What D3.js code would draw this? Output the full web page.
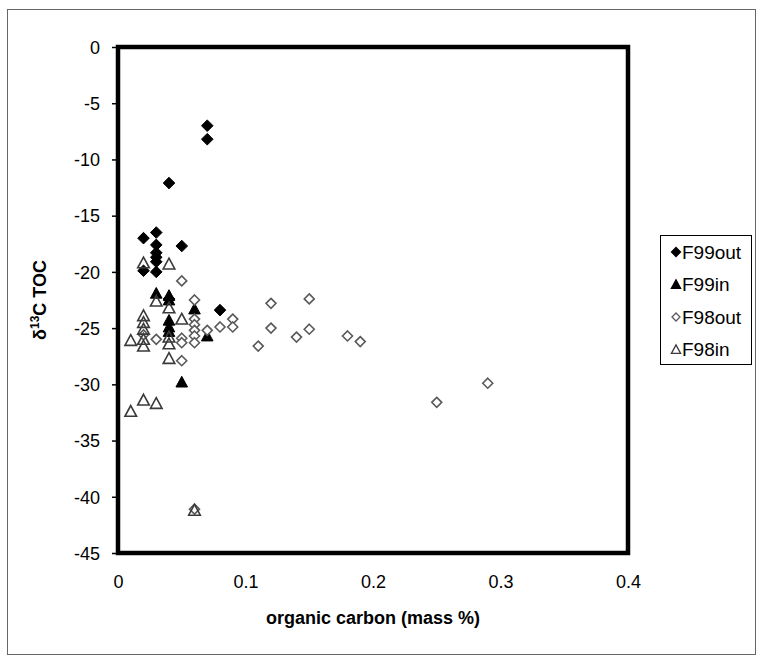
<!DOCTYPE html>
<html>
<head>
<meta charset="utf-8">
<script src="https://cdn.jsdelivr.net/npm/d3@7"></script>
<style>
  body { margin: 0; background: #fff; }
  text { font-family: Arial, "Liberation Sans", sans-serif; }
</style>
</head>
<body>
<div class="chart"></div>
<script>
// series: [organic carbon (mass %), d13C TOC]
const f99out = [
  [0.07, -7.0], [0.07, -8.2], [0.04, -12.1], [0.02, -17.0], [0.03, -16.5],
  [0.03, -17.6], [0.05, -17.7], [0.03, -18.3], [0.03, -18.7], [0.03, -19.1],
  [0.02, -19.9], [0.03, -20.0], [0.04, -22.4], [0.08, -23.4]
];
const f99in = [
  [0.03, -21.9], [0.04, -22.1], [0.04, -22.5], [0.06, -23.3], [0.04, -24.3],
  [0.04, -24.9], [0.04, -25.3], [0.07, -25.7], [0.05, -29.8]
];
const f98out = [
  [0.03, -26.0], [0.05, -20.8], [0.06, -22.5], [0.06, -24.2], [0.06, -24.7],
  [0.06, -25.2], [0.06, -25.7], [0.06, -26.3], [0.07, -25.2], [0.08, -24.9],
  [0.09, -24.2], [0.09, -24.9], [0.12, -22.8], [0.12, -25.0], [0.11, -26.6],
  [0.15, -22.4], [0.15, -25.1], [0.14, -25.8], [0.18, -25.7], [0.19, -26.2],
  [0.25, -31.6], [0.29, -29.9], [0.05, -27.9], [0.05, -25.9], [0.02, -25.6],
  [0.05, -26.3], [0.06, -41.1]
];
const f98in = [
  [0.02, -19.2], [0.04, -19.3], [0.03, -22.6], [0.04, -23.2], [0.05, -24.2],
  [0.02, -23.9], [0.02, -24.5], [0.02, -25.1], [0.01, -26.1], [0.02, -26.0],
  [0.04, -25.8], [0.02, -26.6], [0.04, -26.4], [0.04, -27.7], [0.02, -31.4],
  [0.03, -31.7], [0.01, -32.4], [0.06, -41.2]
];
const seriesNames = ['F99out', 'F99in', 'F98out', 'F98in'];
const xTicks = [0, 0.1, 0.2, 0.3, 0.4];
const yTicks = [0, -5, -10, -15, -20, -25, -30, -35, -40, -45];

const width = 757, height = 656;
const margin = { top: 47, right: 129, bottom: 103, left: 118 };
const w = width - margin.left - margin.right;
const h = height - margin.top - margin.bottom;

const svg = d3.select('.chart')
  .append('svg')
    .attr('width', width)
    .attr('height', height);

// chart area frame
svg.append('rect')
  .attr('x', 7.5).attr('y', 9.5)
  .attr('width', 748).attr('height', 645)
  .attr('fill', '#fff')
  .attr('stroke', '#666');

const g = svg.append('g')
  .attr('transform', `translate(${margin.left}, ${margin.top})`);

const x = d3.scaleLinear().domain([0, 0.4]).range([0, w]);
const y = d3.scaleLinear().domain([-45, 0]).range([h, 0]);

const yAxis = d3.axisLeft(y).tickValues(yTicks).tickSize(6).tickPadding(12)
  .tickFormat(d => String(d));
const xAxis = d3.axisBottom(x).tickValues(xTicks).tickSize(0).tickPadding(22)
  .tickFormat(d => String(d));

g.append('g').call(yAxis)
  .call(a => a.select('.domain').remove())
  .call(a => a.selectAll('line').attr('stroke', '#000').attr('stroke-width', 1.5))
  .call(a => a.selectAll('text').attr('font-size', 18).attr('fill', '#000').attr('dy', '0.35em'));

g.append('g').attr('transform', `translate(0, ${h})`).call(xAxis)
  .call(a => a.select('.domain').remove())
  .call(a => a.selectAll('text').attr('font-size', 18).attr('fill', '#000'));

// plot area border
g.append('rect')
  .attr('width', w).attr('height', h)
  .attr('fill', 'none')
  .attr('stroke', '#000')
  .attr('stroke-width', 4.5);

function diamondPath(s) {
  return `M0,${-s}L${s},0L0,${s}L${-s},0Z`;
}
function trianglePath(s) {
  return `M0,${-s}L${s},${s * 0.85}L${-s},${s * 0.85}Z`;
}

const styles = [
  { data: f99out, path: diamondPath(5.8), fill: '#000', stroke: '#000', sw: 1 },
  { data: f99in, path: trianglePath(5.8), fill: '#000', stroke: '#000', sw: 1 },
  { data: f98out, path: diamondPath(5), fill: '#fff', stroke: '#5a5a5a', sw: 1.6 },
  { data: f98in, path: trianglePath(5.8), fill: 'none', stroke: '#3a3a3a', sw: 1.6 }
];

styles.forEach(s => {
  g.append('g').selectAll('path')
    .data(s.data)
    .enter()
    .append('path')
      .attr('d', s.path)
      .attr('transform', d => `translate(${x(d[0])}, ${y(d[1])})`)
      .attr('fill', s.fill)
      .attr('stroke', s.stroke)
      .attr('stroke-width', s.sw);
});

// axis titles
svg.append('text')
  .attr('x', margin.left + w / 2).attr('y', 624)
  .attr('text-anchor', 'middle')
  .attr('font-size', 18).attr('font-weight', 'bold')
  .text('organic carbon (mass %)');

const yt = svg.append('text')
  .attr('transform', `translate(46, ${margin.top + h / 2}) rotate(-90)`)
  .attr('text-anchor', 'middle')
  .attr('font-size', 18).attr('font-weight', 'bold');
yt.append('tspan').text('δ');
yt.append('tspan').attr('font-size', 12).attr('dy', -7).text('13');
yt.append('tspan').attr('dy', 7).text('C TOC');

// legend
const lg = svg.append('g').attr('transform', 'translate(660, 235)');
lg.append('rect')
  .attr('x', 0.5).attr('y', 0.5)
  .attr('width', 91).attr('height', 129)
  .attr('fill', '#fff').attr('stroke', '#000');
const legendMarks = [
  { path: diamondPath(4.5), fill: '#000', stroke: '#000' },
  { path: trianglePath(4.6), fill: '#000', stroke: '#000' },
  { path: diamondPath(4), fill: '#fff', stroke: '#5a5a5a' },
  { path: trianglePath(4.6), fill: 'none', stroke: '#3a3a3a' }
];
seriesNames.forEach((name, i) => {
  const row = lg.append('g').attr('transform', `translate(0, ${17 + i * 32.5})`);
  row.append('path')
    .attr('d', legendMarks[i].path)
    .attr('transform', 'translate(16, 0)')
    .attr('fill', legendMarks[i].fill)
    .attr('stroke', legendMarks[i].stroke)
    .attr('stroke-width', 1.3);
  row.append('text')
    .attr('x', 22).attr('dy', '0.35em')
    .attr('font-size', 19)
    .text(name);
});
</script>
</body>
</html>
